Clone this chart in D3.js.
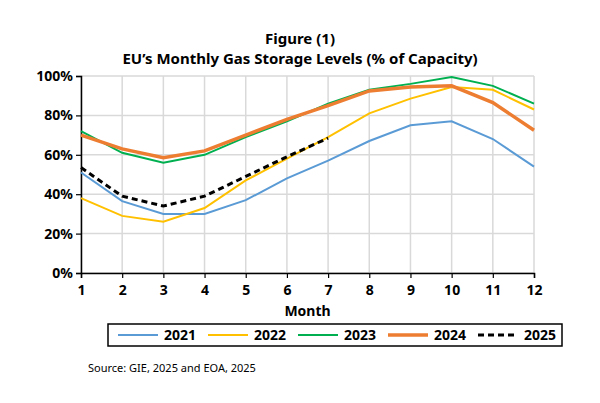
<!DOCTYPE html>
<html><head><meta charset="utf-8">
<script src="https://cdn.jsdelivr.net/npm/d3@7"></script>
<style>body{margin:0;background:#fff;font-family:"Noto Sans",sans-serif}</style>
</head><body><div id="container"></div>
<script>
const months = [1,2,3,4,5,6,7,8,9,10,11,12];
const yTicks = [0,20,40,60,80,100];
const s2021 = [51,36.5,30,30,37,48,57,67,75,77,68,54];
const s2022 = [38,29,26,33,47,58,69,81,88.5,94.4,93,83];
const s2023 = [72,61,56,60,69,77,86,93,96,99.5,95,86];
const s2024 = [70,63,58.5,62,70,78,85,92.4,94.4,95,86.5,72.5];
const s2025 = [53.5,39,34,39,49,59,68.5];

const series = [
  {name:'2021', values:s2021, color:'#5b9bd5', w:2},
  {name:'2022', values:s2022, color:'#ffc000', w:2},
  {name:'2023', values:s2023, color:'#00b050', w:2},
  {name:'2024', values:s2024, color:'#ed7d31', w:3.5},
  {name:'2025', values:s2025, color:'#000', w:3, dash:'6,4'}
];

const width = 600, height = 403;
const svg = d3.select('#container').append('svg')
  .attr('width', width).attr('height', height);

const x = d3.scaleLinear([1, 12], [81, 534]);
const y = d3.scaleLinear([0, 100], [273, 76]);

svg.append('text').attr('x', 300).attr('y', 44).attr('text-anchor', 'middle')
  .style('font', 'bold 15px "Noto Sans"').text('Figure (1)');
svg.append('text').attr('x', 300).attr('y', 64).attr('text-anchor', 'middle')
  .style('font', 'bold 15px "Noto Sans"').text('EU’s Monthly Gas Storage Levels (% of Capacity)');

// grid
svg.append('g').selectAll('line').data(yTicks).join('line')
  .attr('x1', x(1)).attr('x2', x(12)).attr('y1', d => y(d)).attr('y2', d => y(d))
  .attr('stroke', '#d9d9d9').attr('stroke-width', 1.5);
svg.append('g').selectAll('line').data(months).join('line')
  .attr('y1', y(0)).attr('y2', y(100)).attr('x1', d => x(d)).attr('x2', d => x(d))
  .attr('stroke', '#d9d9d9').attr('stroke-width', 1.5);

// axes
const yAxis = svg.append('g').attr('transform', `translate(${x(1)},0)`)
  .call(d3.axisLeft(y).tickValues(yTicks).tickFormat(d => d + '%').tickSize(5));
const xAxis = svg.append('g').attr('transform', `translate(0,${y(0)})`)
  .call(d3.axisBottom(x).tickValues(months).tickFormat(d3.format('d')).tickSize(5));
[yAxis, xAxis].forEach(g => {
  g.select('.domain').attr('stroke', '#000').attr('stroke-width', 1.5);
  g.selectAll('line').attr('stroke', '#000').attr('stroke-width', 1.2);
  g.selectAll('text').style('font', 'bold 14px "Noto Sans"').attr('fill', '#000');
});
xAxis.selectAll('text').attr('dy', '1em');
svg.append('text').attr('x', x(6.5)).attr('y', 316).attr('text-anchor', 'middle')
  .style('font', 'bold 14px "Noto Sans"').text('Month');

const line = d3.line().x((d, i) => x(months[i])).y(d => y(d));
svg.append('g').selectAll('path').data(series).join('path')
  .attr('d', d => line(d.values)).attr('fill', 'none')
  .attr('stroke', d => d.color).attr('stroke-width', d => d.w)
  .attr('stroke-dasharray', d => d.dash || null);

// legend
svg.append('rect').attr('x', 108).attr('y', 324).attr('width', 454).attr('height', 22)
  .attr('fill', 'none').attr('stroke', '#000').attr('stroke-width', 1.5);
const lg = svg.append('g').selectAll('g').data(series).join('g')
  .attr('transform', (d, i) => `translate(${118 + i * 90},335)`);
lg.append('line').attr('x1', 0).attr('x2', 40)
  .attr('stroke', d => d.color).attr('stroke-width', d => d.w)
  .attr('stroke-dasharray', d => d.dash || null);
lg.append('text').attr('x', 46).attr('dy', '0.35em')
  .style('font', 'bold 14px "Noto Sans"').text(d => d.name);

svg.append('text').attr('x', 88).attr('y', 372)
  .style('font', '11px "Noto Sans"').text('Source: GIE, 2025 and EOA, 2025');
</script></body></html>
